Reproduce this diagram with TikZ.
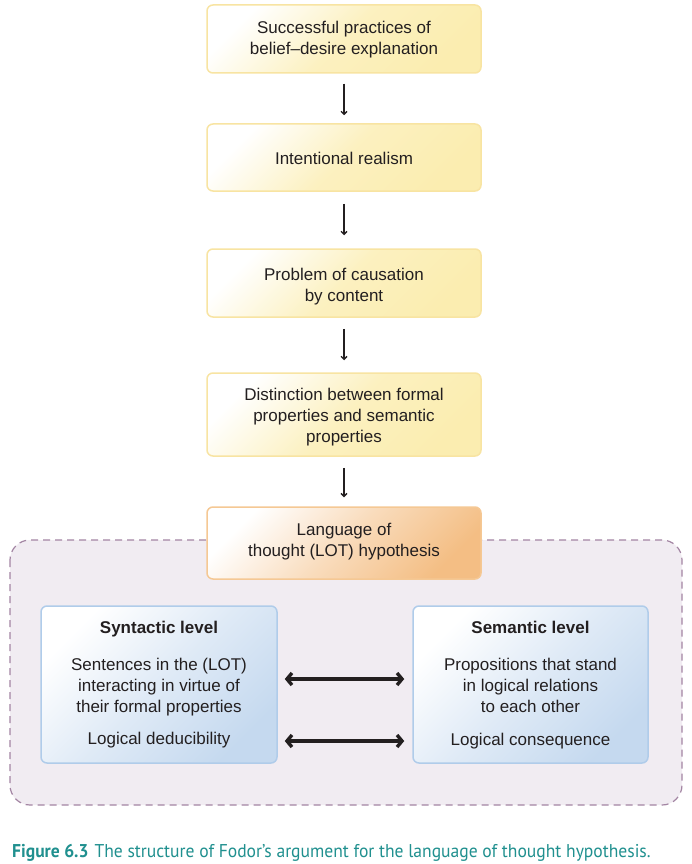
\documentclass[tikz,border=0pt]{standalone}
\usepackage{fontspec}
\setmainfont{Liberation Sans}
\newfontfamily\capfont[FakeStretch=0.95]{PT Sans}
\usetikzlibrary{arrows.meta}
\definecolor{ybox}{HTML}{FBEDB0}
\definecolor{yedge}{HTML}{F8E4A2}
\definecolor{obox}{HTML}{F4BE84}
\definecolor{oedge}{HTML}{F5C894}
\definecolor{bbox}{HTML}{C5D9EF}
\definecolor{bedge}{HTML}{B0CCEA}
\definecolor{contfill}{HTML}{F1ECF2}
\definecolor{contedge}{HTML}{A385A3}
\definecolor{teal}{HTML}{20908F}
\definecolor{txt}{HTML}{231F20}
\tikzset{
  ybx/.style={draw=yedge, line width=1.5pt, rounded corners=6pt, top color=white, bottom color=ybox, middle color=ybox!80!white, shading angle=45, minimum width=274pt, inner sep=0pt},
  obx/.style={draw=oedge, line width=1.5pt, rounded corners=6pt, top color=white, bottom color=obox, middle color=obox!55!white, shading angle=45, minimum width=274pt, inner sep=0pt},
  bbx/.style={draw=bedge, line width=1.5pt, rounded corners=6pt, top color=white, bottom color=bbox, middle color=bbox!55!white, shading angle=45, inner sep=0pt},
  lbl/.style={anchor=base, text=txt, font=\fontsize{17}{21}\selectfont, inner sep=0pt},
  ttl/.style={anchor=base, text=txt, font=\bfseries\fontsize{17}{21}\selectfont, inner sep=0pt},
  varrow/.style={line width=1.3pt, draw=txt, -{Straight Barb[length=3pt,width=6pt]}},
  darrow/.style={line width=3.4pt, draw=txt, {Straight Barb[length=5pt,width=12pt]}-{Straight Barb[length=5pt,width=12pt]}},
}
\begin{document}
\begin{tikzpicture}[x=1pt,y=-1pt]
\useasboundingbox (0,0) rectangle (692,864);
\fill[white] (0,0) rectangle (692,864);
% container
\path[draw=contedge, fill=contfill, line width=1.2pt, dash pattern=on 7pt off 5pt, rounded corners=20pt] (10,540) rectangle (682,805);
% top chain
\node[ybx, minimum height=68pt] (b1) at (344,39) {};
\node[lbl] (b1a) at (344,34) {Successful practices of};
\node[lbl] (b1b) at (344,55) {belief--desire explanation};
\node[ybx, minimum height=67pt] (b2) at (344,157.5) {};
\node[lbl] (b2a) at (344,164) {Intentional realism};
\node[ybx, minimum height=68pt] (b3) at (344,283) {};
\node[lbl] (b3a) at (344,280) {Problem of causation};
\node[lbl] (b3b) at (344,301) {by content};
\node[ybx, minimum height=83pt] (b4) at (344,414.5) {};
\node[lbl] (b4a) at (344,400) {Distinction between formal};
\node[lbl] (b4b) at (344,421) {properties and semantic};
\node[lbl] (b4c) at (344,442) {properties};
\node[obx, minimum height=72pt] (b5) at (344,543) {};
\node[lbl] (b5a) at (344,535) {Language of};
\node[lbl] (b5b) at (344,556) {thought (LOT) hypothesis};
\draw[varrow] ([yshift=-10pt]b1.south) -- ([yshift=8pt]b2.north);
\draw[varrow] ([yshift=-12pt]b2.south) -- ([yshift=13pt]b3.north);
\draw[varrow] ([yshift=-11pt]b3.south) -- ([yshift=12pt]b4.north);
\draw[varrow] ([yshift=-11pt]b4.south) -- ([yshift=9pt]b5.north);
% lower boxes
\node[bbx, minimum width=236pt, minimum height=157pt] (L) at (159,684.5) {};
\node[bbx, minimum width=235pt, minimum height=157pt] (R) at (530.5,684.5) {};
\node[ttl] (Lt) at (159,633) {Syntactic level};
\node[lbl] (Lb1) at (159,670) {Sentences in the (LOT)};
\node[lbl] (Lb2) at (159,691) {interacting in virtue of};
\node[lbl] (Lb3) at (159,712) {their formal properties};
\node[lbl] (Ld) at (159,744) {Logical deducibility};
\node[ttl] (Rt) at (530.5,633) {Semantic level};
\node[lbl] (Rb1) at (530.5,670) {Propositions that stand};
\node[lbl] (Rb2) at (530.5,691) {in logical relations};
\node[lbl] (Rb3) at (530.5,712) {to each other};
\node[lbl] (Rd) at (530.5,745) {Logical consequence};
\coordinate (ua) at (0,679);
\coordinate (la) at (0,741);
\draw[darrow] ([xshift=7pt]L.east |- ua) -- ([xshift=-8pt]R.west |- ua);
\draw[darrow] ([xshift=7pt]L.east |- la) -- ([xshift=-8pt]R.west |- la);
% caption
\node[anchor=base west, inner sep=0pt, text=teal] (cap) at (12,857) {\capfont\fontsize{18.5}{20}\selectfont\textbf{Figure 6.3}\hspace{6pt}The structure of Fodor’s argument for the language of thought hypothesis.};
\end{tikzpicture}
\end{document}
